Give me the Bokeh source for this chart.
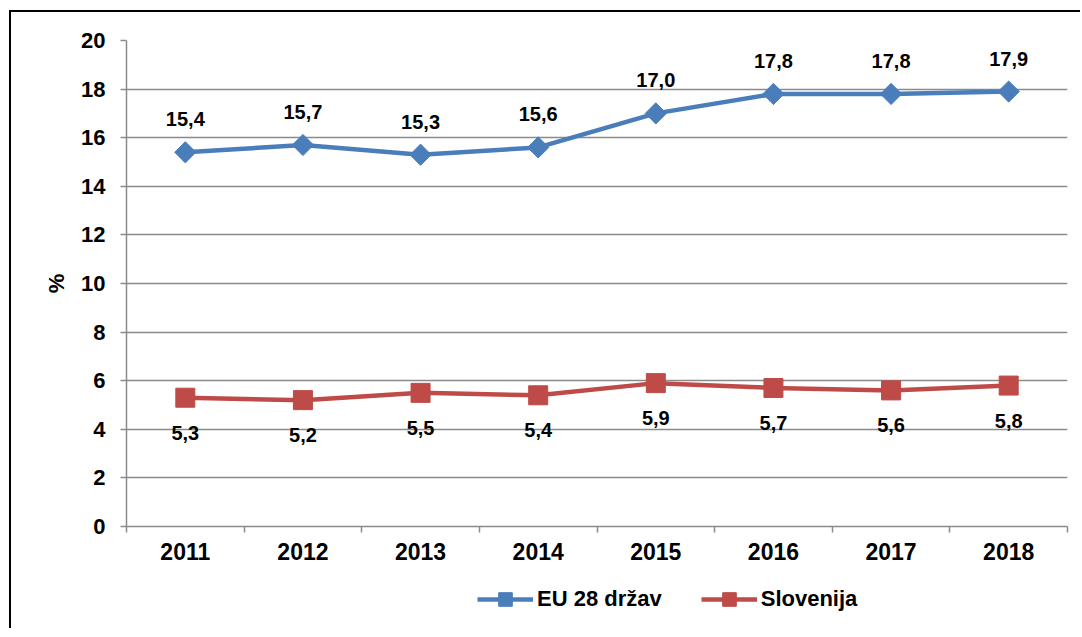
import math
from bokeh.plotting import figure
from bokeh.layouts import column
from bokeh.models import (Range1d, LinearAxis, FixedTicker, Legend, LegendItem, ColumnDataSource)
from bokeh.core.properties import value
from bokeh.embed import file_html
from bokeh.resources import INLINE

years = ["2011", "2012", "2013", "2014", "2015", "2016", "2017", "2018"]
eu28 = [15.4, 15.7, 15.3, 15.6, 17.0, 17.8, 17.8, 17.9]
slovenia = [5.3, 5.2, 5.5, 5.4, 5.9, 5.7, 5.6, 5.8]
y_ticks = [0, 2, 4, 6, 8, 10, 12, 14, 16, 18, 20]
series_names = ["EU 28 držav", "Slovenija"]

BLUE = "#4A7EBB"
RED = "#BE4B48"
GRID = "#8A8A8A"
FONT = "Liberation Sans"

def fmt(v):
    return f"{v:.1f}".replace(".", ",")

# category slots: each year occupies one unit, centred at its slot middle
n = len(years)
centers = [i + 0.5 for i in range(n)]
bounds = list(range(n + 1))

src = ColumnDataSource(dict(
    x=centers, eu=eu28, si=slovenia,
    eu_lbl=[fmt(v) for v in eu28], si_lbl=[fmt(v) for v in slovenia],
))

p = figure(
    x_range=Range1d(0, n), y_range=Range1d(0, 20),
    frame_width=941, frame_height=486,
    min_border_left=115, min_border_right=13, min_border_top=28, min_border_bottom=0,
    x_axis_location=None, y_axis_location=None,
    output_backend="svg", toolbar_location=None,
)
p.outline_line_color = None
p.background_fill_color = "white"
p.border_fill_color = "white"

# y axis
yax = LinearAxis(ticker=FixedTicker(ticks=y_ticks))
yax.axis_line_color = GRID
yax.axis_line_width = 1.5
yax.major_tick_line_color = GRID
yax.major_tick_line_width = 1.5
yax.major_tick_out = 6
yax.major_tick_in = 0
yax.minor_tick_line_color = None
yax.major_label_text_font = FONT
yax.major_label_text_font_style = "bold"
yax.major_label_text_font_size = "22px"
yax.major_label_text_color = "black"
yax.major_label_standoff = 15
yax.axis_label = "%"
yax.axis_label_text_font = FONT
yax.axis_label_text_font_style = "bold"
yax.axis_label_text_font_size = "22px"
yax.axis_label_text_color = "black"
yax.axis_label_standoff = 9
p.add_layout(yax, "left")

# x axis: labels at slot centres, tick marks at slot boundaries
xax = LinearAxis(ticker=FixedTicker(ticks=centers, minor_ticks=bounds))
xax.major_label_overrides = {c: y for c, y in zip(centers, years)}
xax.axis_line_color = GRID
xax.axis_line_width = 1.5
xax.major_tick_line_color = None
xax.major_tick_out = 6
xax.major_tick_in = 0
xax.minor_tick_line_color = GRID
xax.minor_tick_line_width = 1.5
xax.minor_tick_out = 6
xax.minor_tick_in = 0
xax.major_label_text_font = FONT
xax.major_label_text_font_style = "bold"
xax.major_label_text_font_size = "23px"
xax.major_label_text_color = "black"
xax.major_label_standoff = 10
p.add_layout(xax, "below")

p.xgrid.grid_line_color = None
p.ygrid.ticker = FixedTicker(ticks=y_ticks)
p.ygrid.grid_line_color = GRID
p.ygrid.grid_line_width = 1.5

def draw_series(fig):
    a = fig.line("x", "eu", source=src, color=BLUE, line_width=4.5)
    b = fig.scatter("x", "eu", source=src, marker="square", angle=math.pi / 4, size=15,
                    fill_color=BLUE, line_color=BLUE)
    c = fig.line("x", "si", source=src, color=RED, line_width=4.5)
    d = fig.scatter("x", "si", source=src, marker="square", size=19,
                    fill_color=RED, line_color=RED)
    return a, b, c, d

draw_series(p)

p.text("x", "eu", text="eu_lbl", source=src, text_align="center", text_baseline="middle",
       y_offset=-33, text_font=value(FONT), text_font_style="bold", text_font_size="20px",
       text_color="black")
p.text("x", "si", text="si_lbl", source=src, text_align="center", text_baseline="middle",
       y_offset=35, text_font=value(FONT), text_font_style="bold", text_font_size="20px",
       text_color="black")

# legend strip below the chart (same series glyphs, outside its visible range)
lg = figure(
    x_range=Range1d(-100, -99), y_range=Range1d(-100, -99),
    width=1069, height=66,
    min_border=0, min_border_left=0, min_border_right=0, min_border_top=0, min_border_bottom=0,
    x_axis_location=None, y_axis_location=None,
    output_backend="svg", toolbar_location=None,
)
lg.outline_line_color = None
lg.xgrid.grid_line_color = None
lg.ygrid.grid_line_color = None
lg.background_fill_color = "white"
lg.border_fill_color = "white"
la, lb, lc, ld = draw_series(lg)

legend = Legend(
    items=[LegendItem(label=series_names[0], renderers=[la, lb]),
           LegendItem(label=series_names[1], renderers=[lc, ld])],
    location=(351, 12), orientation="horizontal",
    glyph_width=56, glyph_height=34, spacing=39, padding=0, margin=0,
    label_standoff=4,
    label_text_font=FONT, label_text_font_style="bold", label_text_font_size="22px",
    label_text_color="black", border_line_color=None, background_fill_alpha=0,
)
lg.add_layout(legend, "center")

layout = column(p, lg, spacing=0)
layout.margin = (10, 0, 0, 9)
layout.styles = {"border-left": "2px solid black", "border-top": "2px solid black"}

open("out.html", "w").write(file_html(layout, INLINE))
